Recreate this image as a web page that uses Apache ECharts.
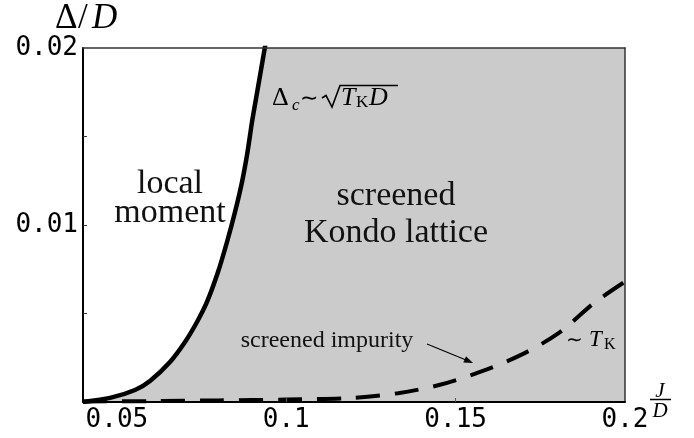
<!DOCTYPE html>
<html>
<head>
<meta charset="utf-8">
<script src="https://cdn.jsdelivr.net/npm/echarts@6/dist/echarts.min.js"></script>
<style>html,body{margin:0;padding:0;background:#fff}#c{width:694px;height:438px}</style>
</head>
<body>
<div id="c"></div>
<script>
// Δc ~ sqrt(T_K D) boundary (solid)
const boundaryX = [0.040, 0.04797, 0.05535, 0.05978, 0.06568, 0.07011, 0.07365, 0.0766, 0.07985, 0.08251, 0.08487, 0.08694, 0.08856, 0.08989, 0.09122, 0.09255, 0.09387];
const boundaryY = [0.0000, 0.00023, 0.00068, 0.00119, 0.00226, 0.00339, 0.00452, 0.00565, 0.00734, 0.00904, 0.01073, 0.01243, 0.01412, 0.01582, 0.01729, 0.01876, 0.02023];
// ~T_K line (dashed)
const tkX = [0.040, 0.060, 0.080, 0.100, 0.1194, 0.133, 0.1451, 0.1572, 0.1693, 0.1805, 0.1909, 0.200];
const tkY = [0.00003, 0.00005, 0.00009, 0.00014, 0.00023, 0.0005, 0.00096, 0.0017, 0.00266, 0.0039, 0.0056, 0.0068];
const xTickLabels = [0.05, 0.1, 0.15, 0.2];
const xTicks = [0.1, 0.15];
const yTickLabels = [0.01, 0.02];
const yTicks = [0.005, 0.01, 0.015];

const chart = echarts.init(document.getElementById('c'), null, {renderer: 'canvas'});
const mono = 'DejaVu Sans Mono';
const serif = 'Liberation Serif';
const black = '#000';

function pairs(xs, ys) { return xs.map((x, i) => [x, ys[i]]); }

const option = {
  backgroundColor: '#fff',
  animation: false,
  grid: {left: 83, right: 69, top: 48, bottom: 36, show: true, backgroundColor: '#cbcbcb', borderWidth: 0},
  xAxis: [{
    type: 'value', min: 0.04, max: 0.2, z: 10,
    axisLine: {onZero: false, lineStyle: {color: black, width: 2}},
    axisTick: {show: true, inside: true, length: 4, customValues: xTicks, lineStyle: {color: '#555', width: 1}},
    axisLabel: {customValues: xTickLabels, fontFamily: mono, fontSize: 26, color: black, margin: 5},
    splitLine: {show: false}
  }, {
    type: 'value', min: 0.04, max: 0.2, position: 'top', z: 10,
    axisLine: {show: true, onZero: false, lineStyle: {color: '#333', width: 1.5}},
    axisTick: {show: false}, axisLabel: {show: false}, splitLine: {show: false}
  }],
  yAxis: [{
    type: 'value', min: 0, max: 0.02, z: 10,
    axisLine: {show: true, onZero: false, lineStyle: {color: black, width: 2}},
    axisTick: {show: true, inside: true, length: 4, customValues: yTicks, lineStyle: {color: '#333', width: 1}},
    axisLabel: {customValues: yTickLabels, fontFamily: mono, fontSize: 26, color: black, margin: 5},
    splitLine: {show: false}
  }, {
    type: 'value', min: 0, max: 0.02, position: 'right', z: 10,
    axisLine: {show: true, onZero: false, lineStyle: {color: '#333', width: 1.5}},
    axisTick: {show: false}, axisLabel: {show: false}, splitLine: {show: false}
  }],
  series: [{
    type: 'line', data: pairs(boundaryX, boundaryY), smooth: 0.25, showSymbol: false, clip: true,
    lineStyle: {color: black, width: 4.5},
    areaStyle: {color: '#fff', opacity: 1, origin: 'end'},
    z: 3
  }, {
    type: 'line', data: pairs(tkX, tkY), smooth: 0.3, showSymbol: false, clip: true,
    lineStyle: {color: black, width: 4, type: [24, 15]},
    z: 4
  }],
  graphic: [
    // y axis name Δ/D
    {type: 'text', x: 55, y: 19, z: 20, style: {text: 'Δ', fontFamily: serif, fontSize: 35, fontStyle: 'normal', fill: black, verticalAlign: 'middle'}},
    {type: 'text', x: 78, y: 19, z: 20, style: {text: '/', fontFamily: serif, fontSize: 35, fontStyle: 'normal', fill: black, verticalAlign: 'middle'}},
    {type: 'text', x: 92, y: 19, z: 20, style: {text: 'D', fontFamily: serif, fontSize: 35, fontStyle: 'italic', fill: black, verticalAlign: 'middle'}},
    // x axis name J/D fraction
    {type: 'text', x: 660, y: 391, z: 20, style: {text: 'J', fontFamily: serif, fontStyle: 'italic', fontSize: 21, fill: black, align: 'center', verticalAlign: 'middle'}},
    {type: 'line', z: 20, shape: {x1: 650, y1: 399.5, x2: 671, y2: 399.5}, style: {stroke: black, lineWidth: 1.5}},
    {type: 'text', x: 660, y: 411, z: 20, style: {text: 'D', fontFamily: serif, fontStyle: 'italic', fontSize: 21, fill: black, align: 'center', verticalAlign: 'middle'}},
    // region labels
    {type: 'text', x: 170, y: 184, z: 20, style: {text: 'local', fontFamily: serif, fontSize: 34, fill: '#111', align: 'center', verticalAlign: 'middle'}},
    {type: 'text', x: 170, y: 213, z: 20, style: {text: 'moment', fontFamily: serif, fontSize: 34, fill: '#111', align: 'center', verticalAlign: 'middle'}},
    {type: 'text', x: 396, y: 196, z: 20, style: {text: 'screened', fontFamily: serif, fontSize: 34, fill: '#111', align: 'center', verticalAlign: 'middle'}},
    {type: 'text', x: 396, y: 233, z: 20, style: {text: 'Kondo lattice', fontFamily: serif, fontSize: 34, fill: '#111', align: 'center', verticalAlign: 'middle'}},
    // Δc ~ sqrt(T_K D)
    {type: 'text', x: 272, y: 98, z: 20, style: {text: 'Δ', fontFamily: serif, fontSize: 26, fill: black, verticalAlign: 'middle'}},
    {type: 'text', x: 292, y: 106, z: 20, style: {text: 'c', fontFamily: serif, fontStyle: 'italic', fontSize: 17, fill: black, verticalAlign: 'middle'}},
    {type: 'text', x: 300, y: 99, z: 20, style: {text: '∼', fontFamily: serif, fontSize: 22, fill: black, verticalAlign: 'middle'}},
    {type: 'polyline', z: 20, shape: {points: [[322, 98], [326, 95.5], [332, 107], [340, 85.5], [398, 85.5]]}, style: {stroke: black, lineWidth: 1.6, fill: null}},
    {type: 'text', x: 341, y: 98, z: 20, style: {text: 'T', fontFamily: serif, fontStyle: 'italic', fontSize: 26, fill: black, verticalAlign: 'middle'}},
    {type: 'text', x: 356, y: 103, z: 20, style: {text: 'K', fontFamily: serif, fontSize: 17, fill: black, verticalAlign: 'middle'}},
    {type: 'text', x: 369, y: 98, z: 20, style: {text: 'D', fontFamily: serif, fontStyle: 'italic', fontSize: 26, fill: black, verticalAlign: 'middle'}},
    // screened impurity + arrow
    {type: 'text', x: 327, y: 341, z: 20, style: {text: 'screened impurity', fontFamily: serif, fontSize: 24, fill: '#111', align: 'center', verticalAlign: 'middle'}},
    {type: 'line', z: 20, shape: {x1: 427, y1: 344, x2: 466, y2: 360}, style: {stroke: black, lineWidth: 1.2}},
    {type: 'polygon', z: 20, shape: {points: [[473, 363], [463.3, 362.6], [466.1, 356.2]]}, style: {fill: black}},
    // ~ T_K
    {type: 'text', x: 566, y: 341, z: 20, style: {text: '∼', fontFamily: serif, fontSize: 20, fill: black, verticalAlign: 'middle'}},
    {type: 'text', x: 589, y: 340, z: 20, style: {text: 'T', fontFamily: serif, fontStyle: 'italic', fontSize: 23, fill: black, verticalAlign: 'middle'}},
    {type: 'text', x: 604, y: 345, z: 20, style: {text: 'K', fontFamily: serif, fontSize: 16, fill: black, verticalAlign: 'middle'}}
  ]
};
chart.setOption(option);
</script>
</body>
</html>
